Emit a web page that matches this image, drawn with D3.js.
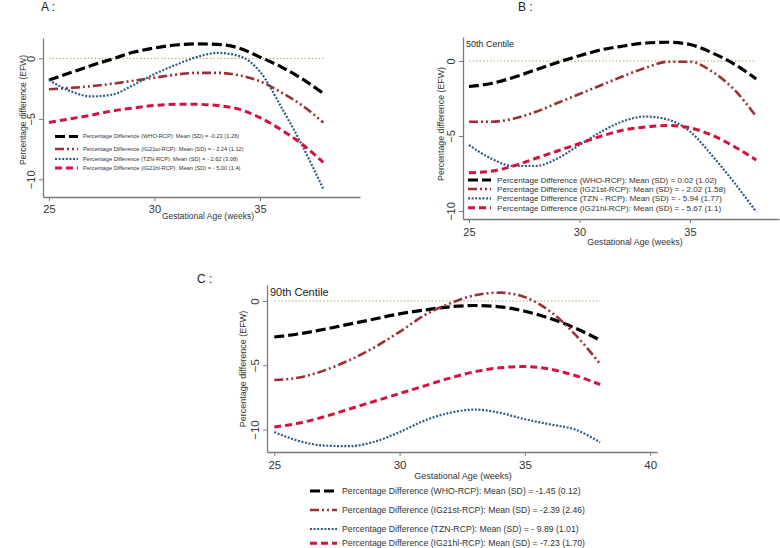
<!DOCTYPE html>
<html><head><meta charset="utf-8">
<script src="https://cdn.jsdelivr.net/npm/d3@7"></script>
<style>
body{margin:0;background:#fff;}
svg{display:block;font-family:"Liberation Sans",Arial,sans-serif;}
</style>
</head><body>
<svg id="chart" width="780" height="548"></svg>
<script>
// ---------- DATA ----------
const weeks = [25,26,27,28,29,30,31,32,33,34,35,36,37,38];
const xTicksAB = [25,30,35];
const xTicksC = [25,30,35,40];
const yTicks = [0,-5,-10];

// Panel A
const whoA    = [-1.8,-1.2,-0.6,-0.05,0.5,0.85,1.1,1.2,1.15,0.85,0.1,-0.7,-1.7,-2.9];
const ig21stA = [-2.55,-2.45,-2.3,-2.1,-1.85,-1.6,-1.35,-1.2,-1.2,-1.4,-1.9,-2.8,-3.9,-5.3];
const tznA    = [-1.8,-2.7,-3.15,-3.0,-2.2,-1.3,-0.55,0.1,0.45,0.2,-1.1,-4.0,-7.2,-10.8];
const ig21hlA = [-5.3,-5.0,-4.7,-4.35,-4.1,-3.9,-3.8,-3.8,-3.9,-4.2,-4.9,-5.9,-7.1,-8.6];
const legendA = [
  "Percentage Difference (WHO-RCP): Mean (SD) = -0.23 (1.26)",
  "Percentage Difference (IG21st-RCP): Mean (SD) = - 2.24 (1.12)",
  "Percentage Difference (TZN-RCP): Mean (SD) = - 2.62 (3.08)",
  "Percentage Difference (IG21hl-RCP): Mean (SD) = - 5.00 (1.4)"
];

// Panel B
const whoB    = [-1.7,-1.5,-1.1,-0.6,-0.1,0.35,0.75,1.0,1.2,1.25,1.1,0.55,-0.2,-1.2];
const ig21stB = [-4.05,-4.05,-3.85,-3.4,-2.8,-2.2,-1.6,-1.0,-0.45,-0.05,-0.05,-0.7,-1.9,-3.7];
const tznB    = [-5.6,-6.5,-7.0,-7.0,-6.5,-5.6,-4.7,-4.0,-3.7,-3.9,-4.7,-6.3,-8.1,-10.05];
const ig21hlB = [-7.45,-7.35,-7.0,-6.5,-6.0,-5.5,-5.0,-4.6,-4.4,-4.3,-4.45,-4.95,-5.7,-6.6];
const legendB = [
  "Percentage Difference (WHO-RCP): Mean (SD) = 0.02 (1.02)",
  "Percentage Difference (IG21st-RCP): Mean (SD) = - 2.02 (1.58)",
  "Percentage Difference (TZN - RCP): Mean (SD) = - 5.94 (1.77)",
  "Percentage Difference (IG21hl-RCP): Mean (SD) = - 5.67 (1.1)"
];

// Panel C
const whoC    = [-2.8,-2.55,-2.2,-1.8,-1.4,-1.0,-0.7,-0.45,-0.35,-0.45,-0.8,-1.35,-2.1,-3.05];
const ig21stC = [-6.15,-5.95,-5.4,-4.6,-3.6,-2.4,-1.1,-0.2,0.45,0.65,0.3,-0.8,-2.6,-4.9];
const tznC    = [-10.2,-10.9,-11.25,-11.3,-10.95,-10.2,-9.3,-8.7,-8.45,-8.7,-9.2,-9.6,-10.0,-11.0];
const ig21hlC = [-9.8,-9.5,-9.0,-8.4,-7.8,-7.2,-6.6,-6.0,-5.5,-5.2,-5.1,-5.3,-5.8,-6.5];
const legendC = [
  "Percentage Difference (WHO-RCP): Mean (SD) =  -1.45 (0.12)",
  "Percentage Difference (IG21st-RCP): Mean (SD) = -2.39 (2.46)",
  "Percentage Difference (TZN-RCP): Mean (SD) = - 9.89 (1.01)",
  "Percentage Difference (IG21hl-RCP): Mean (SD) = -7.23 (1.70)"
];

// ---------- STYLES ----------
const seriesStyle = [
  {color:"#000000", dash:"10,4", width:3.2},
  {color:"#9a3036", dash:"9,3,2,3,2,3", width:2.6},
  {color:"#2d5b86", dash:"2,1.6", width:2.2},
  {color:"#d3123f", dash:"7,4", width:3.0}
];

const svg = d3.select("#chart");

function drawPanel(cfg){
  const g = svg.append("g");
  const x = d3.scaleLinear().domain(cfg.xDom).range([cfg.left, cfg.right]);
  const y = d3.scaleLinear().domain(cfg.yDom).range([cfg.bottom, cfg.top]);

  // x axis
  const xa = g.append("g").attr("transform", `translate(0,${cfg.bottom})`)
    .call(d3.axisBottom(x).tickValues(cfg.xTicks).tickSize(4).tickSizeOuter(0).tickPadding(cfg.xPad));
  // y axis
  const ya = g.append("g").attr("transform", `translate(${cfg.left},0)`)
    .call(d3.axisLeft(y).tickValues(yTicks).tickSize(4).tickSizeOuter(0));
  [xa, ya].forEach(a => {
    a.select(".domain").attr("stroke", "#7a7a7a").attr("stroke-width", 1.3);
    a.selectAll(".tick line").attr("stroke", "#7a7a7a").attr("stroke-width", 1);
    a.selectAll("text").attr("fill", "#333").style("font-size", cfg.tickFont + "px")
      .style("font-family", "'Liberation Sans',Arial,sans-serif");
  });
  ya.selectAll(".tick text")
    .attr("x", null).attr("dy", null)
    .attr("text-anchor", "middle")
    .attr("transform", `translate(${-cfg.yLabOff},0) rotate(-90)`);

  // axis titles
  g.append("text").attr("x", cfg.xTitle[0]).attr("y", cfg.xTitle[1])
    .attr("text-anchor", "middle").attr("fill", "#333")
    .style("font-size", cfg.titleFont + "px").text("Gestational Age (weeks)");
  g.append("text").attr("transform", `translate(${cfg.yTitle[0]},${cfg.yTitle[1]}) rotate(-90)`)
    .attr("text-anchor", "middle").attr("fill", "#333")
    .style("font-size", cfg.titleFont + "px").text("Percentage difference (EFW)");

  // panel label
  g.append("text").attr("x", cfg.label[0]).attr("y", cfg.label[1])
    .attr("fill", "#222").style("font-size", "12px").text(cfg.labelText);
  if (cfg.centile) {
    g.append("text").attr("x", cfg.centile[0]).attr("y", cfg.centile[1])
      .attr("fill", "#222").style("font-size", cfg.centile[2] + "px").text(cfg.centile[3]);
  }

  // reference line at 0
  g.append("line")
    .attr("x1", x(weeks[0])).attr("x2", x(weeks[weeks.length - 1]))
    .attr("y1", y(0)).attr("y2", y(0))
    .attr("stroke", "#a9a86a").attr("stroke-width", 1).attr("stroke-dasharray", "1.5,2");

  // series
  const line = d3.line().x((d, i) => x(weeks[i])).y(d => y(d)).curve(d3.curveMonotoneX);
  cfg.series.forEach((s, i) => {
    const st = seriesStyle[i];
    g.append("path").datum(s).attr("d", line)
      .attr("fill", "none").attr("stroke", st.color)
      .attr("stroke-width", st.width * cfg.lw).attr("stroke-dasharray", st.dash);
  });

  // legend
  cfg.legend.forEach((t, i) => {
    const st = seriesStyle[i];
    const ly = cfg.legRows[i];
    g.append("line").attr("x1", cfg.legX[0]).attr("x2", cfg.legX[1])
      .attr("y1", ly).attr("y2", ly)
      .attr("stroke", st.color).attr("stroke-width", st.width * cfg.lw)
      .attr("stroke-dasharray", st.dash);
    g.append("text").attr("x", cfg.legX[2]).attr("y", ly).attr("dy", "0.35em")
      .attr("fill", "#333").style("font-size", cfg.legFont + "px").text(t);
  });
}

drawPanel({
  xDom:[24.716, 39.74], left:43, right:360,
  yDom:[-11.46, 1.68], bottom:197, top:38,
  xTicks:xTicksAB, xPad:4, tickFont:11, yLabOff:8,
  xTitle:[208, 219], yTitle:[26, 110], titleFont:8.5,
  label:[41, 11], labelText:"A :",
  series:[whoA, ig21stA, tznA, ig21hlA], lw:1,
  legend:legendA, legRows:[136.5, 149, 159, 168], legX:[55, 78, 83], legFont:5.7
});

drawPanel({
  xDom:[24.729, 39.03], left:463, right:779,
  yDom:[-10.533, 1.6], bottom:219, top:37,
  xTicks:xTicksAB, xPad:5, tickFont:11, yLabOff:8,
  xTitle:[635, 245], yTitle:[444, 124], titleFont:8.8,
  label:[518, 11], labelText:"B :",
  centile:[466, 47, 9, "50th Centile"],
  series:[whoB, ig21stB, tznB, ig21hlB], lw:1,
  legend:legendB, legRows:[180, 189, 198.3, 207.7], legX:[468, 491, 497], legFont:8.1
});

drawPanel({
  xDom:[24.709, 40.27], left:267, right:657,
  yDom:[-11.75, 1.245], bottom:452, top:285,
  xTicks:xTicksC, xPad:5, tickFont:11.5, yLabOff:8,
  xTitle:[463, 479], yTitle:[246, 369], titleFont:9,
  label:[197, 283], labelText:"C :",
  centile:[270, 296, 11, "90th Centile"],
  series:[whoC, ig21stC, tznC, ig21hlC], lw:1,
  legend:legendC, legRows:[491, 510, 529, 543.3], legX:[310, 337, 342], legFont:8.7
});
</script>
</body></html>
